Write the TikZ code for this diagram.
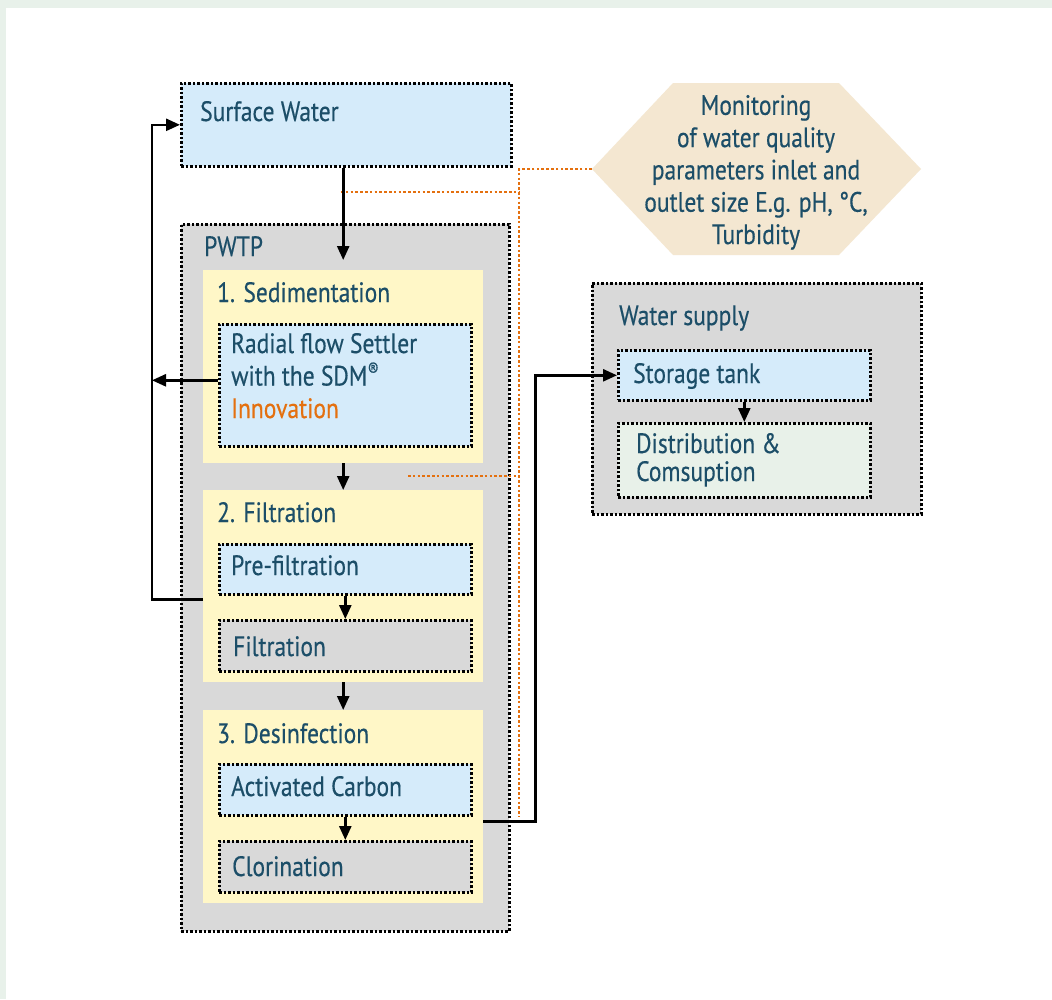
\documentclass[tikz,border=0pt]{standalone}
\usepackage{fontspec}
\setmainfont{PT Sans}[FakeStretch=0.84, FakeBold=0.4]
\usetikzlibrary{arrows.meta}
\definecolor{cText}{HTML}{1C4E68}
\definecolor{cBlue}{HTML}{D5EBFA}
\definecolor{cYel}{HTML}{FFF7C7}
\definecolor{cGrey}{HTML}{D9D9D9}
\definecolor{cGreen}{HTML}{E8F1E9}
\definecolor{cBeige}{HTML}{F4E7D1}
\definecolor{cOrange}{HTML}{E4700F}
\definecolor{cFrame}{HTML}{E8F1EA}
\tikzset{
  dotbox/.style={draw=black, line width=2.6pt, dash pattern=on 2.4pt off 2.1pt, inner sep=0pt, anchor=north west},
  bluebox/.style={dotbox, fill=cBlue},
  greybox/.style={dotbox, fill=cGrey},
  greenbox/.style={dotbox, fill=cGreen},
  yelbox/.style={fill=cYel, draw=none, inner sep=0pt, anchor=north west},
  txt/.style={text=cText, font=\fontsize{28}{32.5}\selectfont, inner sep=0pt, anchor=base west},
  arr/.style={draw=black, line width=2.6pt, -{Triangle[length=14pt,width=12pt]}},
  orng/.style={draw=cOrange, line width=2.6pt, dash pattern=on 2.6pt off 2.2pt}
}
\begin{document}
\begin{tikzpicture}[x=1pt,y=-1pt]
\useasboundingbox (0,0) rectangle (1052,999);
\fill[cFrame] (0,0) rectangle (1052,999);
\fill[white] (6,8) rectangle (1052,999);

% left column
\node[bluebox, minimum width=330pt, minimum height=83pt] (sw) at (180,82) {};
\node[greybox, minimum width=328pt, minimum height=707pt] (pwtp) at (180,223) {};
\node[yelbox, minimum width=280pt, minimum height=193pt] (sed) at (203,270) {};
\node[bluebox, minimum width=252pt, minimum height=122pt] (rad) at (218,323) {};
\node[yelbox, minimum width=280pt, minimum height=192pt] (fil) at (203,490) {};
\node[bluebox, minimum width=252pt, minimum height=50pt] (pre) at (218,543) {};
\node[greybox, minimum width=252pt, minimum height=51pt] (filt) at (218,619) {};
\node[yelbox, minimum width=280pt, minimum height=193pt] (des) at (203,710) {};
\node[bluebox, minimum width=252pt, minimum height=51pt] (act) at (218,763) {};
\node[greybox, minimum width=252pt, minimum height=51pt] (clo) at (218,840) {};

% right column
\node[greybox, minimum width=329pt, minimum height=231pt] (ws) at (591,282) {};
\node[bluebox, minimum width=252pt, minimum height=50pt] (st) at (617,349) {};
\node[greenbox, minimum width=252pt, minimum height=74pt] (dist) at (617,422) {};

% hexagon
\fill[cBeige] (592,169) -- (673,83) -- (839,83) -- (921,169) -- (839,255) -- (673,255) -- cycle;
\coordinate (hexL) at (592,169);
\node[text=cText, font=\fontsize{28}{32.3}\selectfont, inner sep=0pt, align=center, anchor=base] (hexT) at (756,244)
  {Monitoring\\of water quality\\parameters inlet and\\outlet size E.g. pH, °C,\\Turbidity};

% texts
\node[txt] (swT) at (200,121) {Surface Water};
\node[txt] (pwT) at (204,256) {PWTP};
\node[txt] (sedT) at (217,302) {1. Sedimentation};
\node[txt, align=left] (radT) at (231,418) {Radial flow Settler\\with the SDM\textsuperscript{®}\\\textcolor{cOrange}{Innovation}};
\node[txt] (filT) at (217,522) {2. Filtration};
\node[txt] (preT) at (231,575) {Pre-filtration};
\node[txt] (filtT) at (233,656) {Filtration};
\node[txt] (desT) at (217,743) {3. Desinfection};
\node[txt] (actT) at (231,796) {Activated Carbon};
\node[txt] (cloT) at (232,876) {Clorination};
\node[txt] (wsT) at (619,325) {Water supply};
\node[txt] (stT) at (633,383) {Storage tank};
\node[txt, align=left, font=\fontsize{28}{28}\selectfont] (distT) at (636,481) {Distribution \&\\Comsuption};

% orange dotted monitoring lines
\coordinate (ov) at (519,0);
\coordinate (o1) at (341,192);
\coordinate (o2) at (408,476);
\draw[orng] (hexL) -- (hexL -| ov) -- (ov |- act.south);
\draw[orng] (o1) -- (o1 -| ov);
\draw[orng] (o2) -- (o2 -| ov);

% arrows
\coordinate (lp) at (152,0);
\draw[arr, shorten >=10pt] (sw.south -| sed.north) -- (sed.north);
\draw[arr] (sed.south) -- (fil.north);
\draw[arr] (fil.south) -- (des.north);
\draw[arr] (pre.south) -- (filt.north);
\draw[arr] (act.south) -- (clo.north);
\draw[arr] (st.south) -- (dist.north);
\draw[arr] ([yshift=5pt]rad.west) -- ([yshift=5pt]rad.west -| lp);
\draw[arr] ([yshift=-13pt]fil.west) -- ([yshift=-13pt]fil.west -| lp) |- (sw.west);
\draw[arr] ([yshift=-14.5pt]des.east) -- ++(52,0) |- (st.west);
\end{tikzpicture}
\end{document}
